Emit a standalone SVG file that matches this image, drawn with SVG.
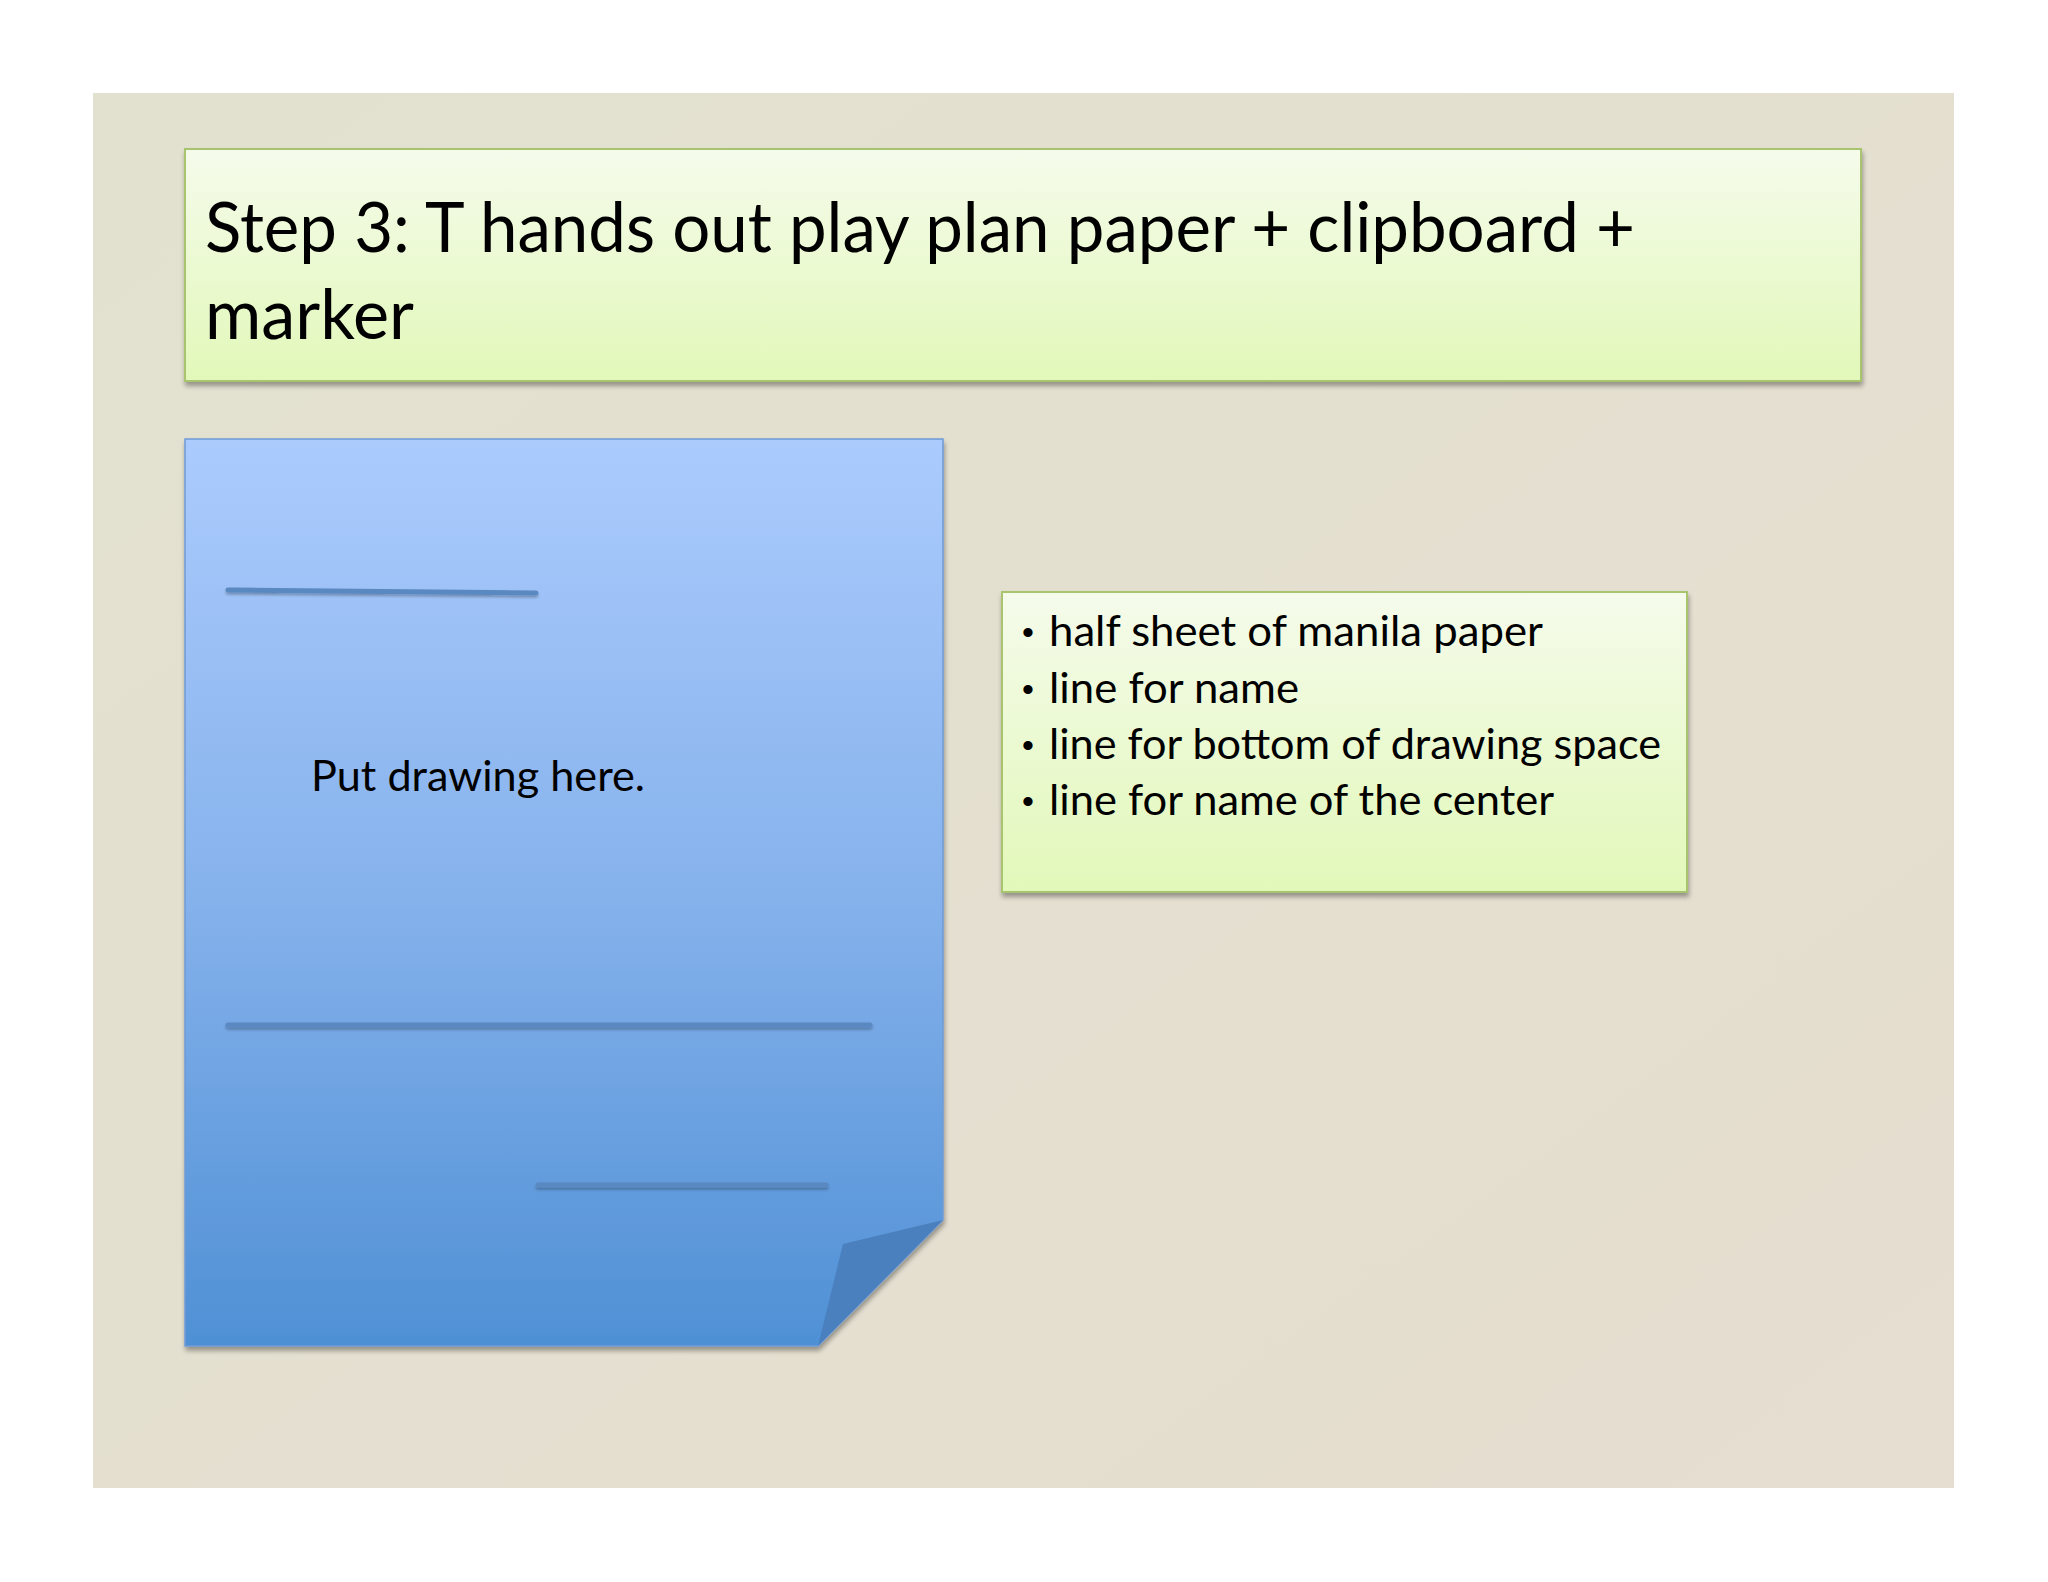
<svg xmlns="http://www.w3.org/2000/svg" width="2048" height="1582" viewBox="0 0 2048 1582">
<defs>
<linearGradient id="bg" x1="0" y1="0" x2="1" y2="1">
<stop offset="0" stop-color="#e2e1d0"/>
<stop offset="1" stop-color="#e6ded0"/>
</linearGradient>
<linearGradient id="green" x1="0" y1="0" x2="0" y2="1">
<stop offset="0" stop-color="#f5fbeb"/>
<stop offset="1" stop-color="#e2f8b9"/>
</linearGradient>
<linearGradient id="blue" x1="0" y1="0" x2="0" y2="1">
<stop offset="0" stop-color="#abcbfd"/>
<stop offset="0.5" stop-color="#86b2ec"/>
<stop offset="1" stop-color="#4f90d5"/>
</linearGradient>
<filter id="sh" x="-5%" y="-5%" width="110%" height="115%">
<feGaussianBlur in="SourceAlpha" stdDeviation="2.5"/>
<feOffset dx="1" dy="4" result="b"/>
<feComponentTransfer><feFuncA type="linear" slope="0.35"/></feComponentTransfer>
<feMerge><feMergeNode/><feMergeNode in="SourceGraphic"/></feMerge>
</filter>
<filter id="lsh" x="-5%" y="-100%" width="110%" height="300%">
<feGaussianBlur in="SourceAlpha" stdDeviation="1.5"/>
<feOffset dx="0" dy="2"/>
<feComponentTransfer><feFuncA type="linear" slope="0.3"/></feComponentTransfer>
<feMerge><feMergeNode/><feMergeNode in="SourceGraphic"/></feMerge>
</filter>
</defs>
<style>
.t{font-family:Lato,"Liberation Sans",sans-serif;fill:#000;}
.b{font-family:"Liberation Sans",sans-serif;fill:#000;font-size:34px;}
.box{fill:url(#green);stroke:#a9c46e;stroke-width:2;}
.ln{stroke:#5a89c2;stroke-width:5;stroke-linecap:round;fill:none;}
</style>
<rect x="0" y="0" width="2048" height="1582" fill="#ffffff"/>
<rect x="93" y="93" width="1861" height="1395" fill="url(#bg)"/>

<g id="title">
<rect class="box" x="185" y="149" width="1676" height="232" filter="url(#sh)"/>
<text class="t" x="205" y="252" font-size="70" textLength="1430" lengthAdjust="spacingAndGlyphs">Step 3: T hands out play plan paper + clipboard +</text>
<text class="t" x="205" y="339" font-size="70" textLength="209" lengthAdjust="spacingAndGlyphs">marker</text>
</g>

<g id="paper">
<path d="M185,439 H943 V1220 L818,1346 H185 Z" fill="url(#blue)" stroke="#6f9bd6" stroke-width="1.5" filter="url(#sh)"/>
<path d="M943,1220 L843,1244 L818,1346 Z" fill="#4a80be"/>
<g filter="url(#lsh)">
<line class="ln" x1="228" y1="590" x2="536" y2="593"/>
<line class="ln" x1="228" y1="1025" x2="870" y2="1025"/>
<line class="ln" x1="538" y1="1185" x2="826" y2="1185"/>
</g>
<text class="t" x="311" y="791" font-size="42" textLength="334" lengthAdjust="spacingAndGlyphs">Put drawing here.</text>
</g>

<g id="list">
<rect class="box" x="1002" y="592" width="685" height="300" filter="url(#sh)"/>
<text class="b" x="1022" y="644">•</text>
<text class="b" x="1022" y="701">•</text>
<text class="b" x="1022" y="757">•</text>
<text class="b" x="1022" y="813">•</text>
<text class="t" font-size="42">
<tspan x="1049" y="646" textLength="493" lengthAdjust="spacingAndGlyphs">half sheet of manila paper</tspan>
<tspan x="1049" y="703" textLength="250" lengthAdjust="spacingAndGlyphs">line for name</tspan>
<tspan x="1049" y="759" textLength="612" lengthAdjust="spacingAndGlyphs">line for bottom of drawing space</tspan>
<tspan x="1049" y="815" textLength="505" lengthAdjust="spacingAndGlyphs">line for name of the center</tspan>
</text>
</g>
<g id="connectors"/>
</svg>
